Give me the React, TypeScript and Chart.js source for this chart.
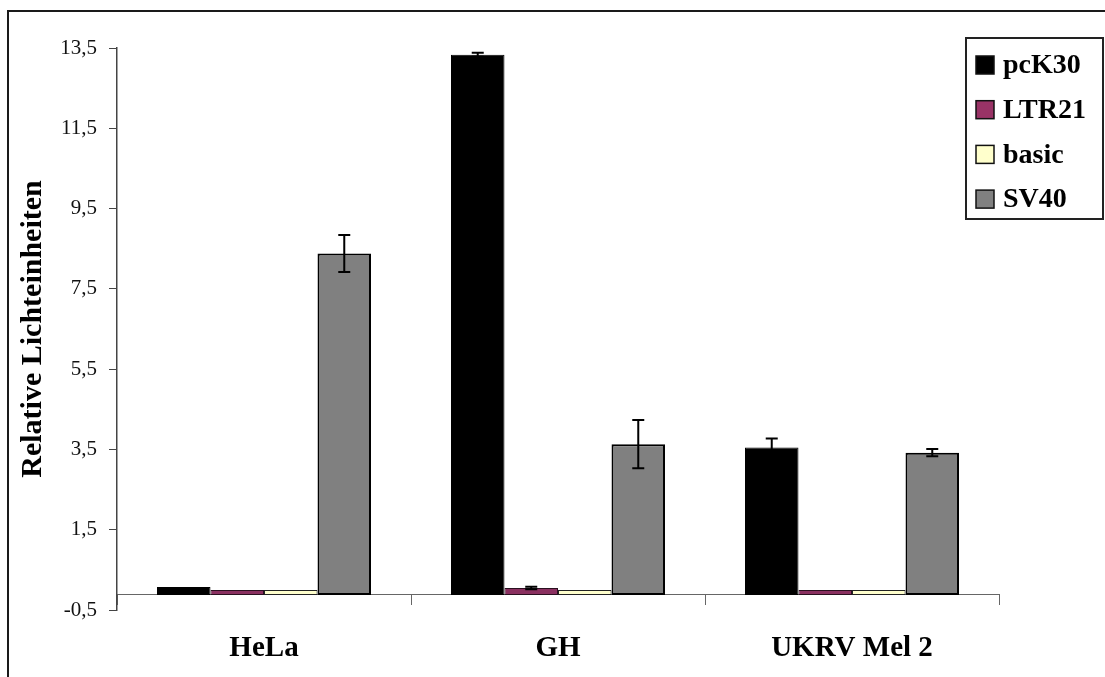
import { useEffect, useRef } from 'react';
import { Chart, registerables } from 'chart.js';

Chart.register(...registerables);

const categories = ['HeLa', 'GH', 'UKRV Mel 2'];
const seriesNames = ['pcK30', 'LTR21', 'basic', 'SV40'];
const pcK30 = [0.07, 13.33, 3.55];
const ltr21 = [0.0, 0.05, 0.0];
const basic = [0.0, 0.0, 0.0];
const sv40 = [8.38, 3.63, 3.42];
const pcK30Err = [0, 0.05, 0.22];
const ltr21Err = [0, 0.03, 0];
const basicErr = [0, 0, 0];
const sv40Err = [0.46, 0.6, 0.09];
const yTickValues = [-0.5, 1.5, 3.5, 5.5, 7.5, 9.5, 11.5, 13.5];
const axisCross = -0.125;

const SERIF = "'Liberation Serif', 'Times New Roman', serif";

const errorBarPlugin = {
  id: 'errorBars',
  afterDatasetsDraw(chart: any) {
    const ctx = chart.ctx;
    const yScale = chart.scales.y;
    chart.data.datasets.forEach((ds: any, i: number) => {
      const meta = chart.getDatasetMeta(i);
      const errs = ds.errors || [];
      meta.data.forEach((bar: any, j: number) => {
        const e = errs[j];
        if (!e) return;
        const v = ds.data[j];
        const x = bar.x;
        const yt = yScale.getPixelForValue(v + e);
        const yb = yScale.getPixelForValue(v - e);
        ctx.save();
        ctx.strokeStyle = '#000';
        ctx.lineWidth = 2;
        ctx.beginPath();
        ctx.moveTo(x, yt);
        ctx.lineTo(x, yb);
        ctx.moveTo(x - 6, yt);
        ctx.lineTo(x + 6, yt);
        ctx.moveTo(x - 6, yb);
        ctx.lineTo(x + 6, yb);
        ctx.stroke();
        ctx.restore();
      });
    });
  },
};

const boxLegendPlugin = {
  id: 'boxLegend',
  afterDraw(chart: any, _args: any, opts: any) {
    const ctx = chart.ctx;
    const { left, top, width, height, rowStart, rowGap, swatch, swatchX, textX, font } = opts;
    ctx.save();
    ctx.fillStyle = '#fff';
    ctx.fillRect(left, top, width, height);
    ctx.lineWidth = 2;
    ctx.strokeStyle = '#222';
    ctx.strokeRect(left, top, width, height);
    chart.data.datasets.forEach((ds: any, i: number) => {
      const cy = top + rowStart + i * rowGap;
      ctx.fillStyle = ds.legendColor || ds.backgroundColor;
      ctx.fillRect(left + swatchX, cy - swatch / 2, swatch, swatch);
      ctx.lineWidth = 1.5;
      ctx.strokeStyle = '#111';
      ctx.strokeRect(left + swatchX, cy - swatch / 2, swatch, swatch);
      ctx.fillStyle = '#000';
      ctx.font = font;
      ctx.textBaseline = 'middle';
      ctx.textAlign = 'left';
      ctx.fillText(ds.label, left + textX, cy + 1);
    });
    ctx.restore();
  },
};

export default function App() {
  const ref = useRef<HTMLCanvasElement>(null);

  useEffect(() => {
    const canvas = ref.current;
    if (!canvas) return;
    const common = { base: axisCross, borderSkipped: false as const };
    const chart = new Chart(canvas, {
      type: 'bar',
      data: {
        labels: categories,
        datasets: [
          { label: seriesNames[0], data: pcK30, errors: pcK30Err, backgroundColor: '#000000', borderColor: '#000000', borderWidth: 1, ...common } as any,
          { label: seriesNames[1], data: ltr21, errors: ltr21Err, backgroundColor: '#8a3060', legendColor: '#993366', borderColor: '#2a1020', borderWidth: 1, ...common } as any,
          { label: seriesNames[2], data: basic, errors: basicErr, backgroundColor: '#FFFFCC', borderColor: '#222', borderWidth: 1, ...common } as any,
          { label: seriesNames[3], data: sv40, errors: sv40Err, backgroundColor: '#808080', borderColor: '#000', borderWidth: 2, ...common } as any,
        ],
      },
      options: {
        responsive: false,
        animation: false,
        devicePixelRatio: 1,
        datasets: {
          bar: { barPercentage: 1, categoryPercentage: 0.728 },
        },
        layout: { padding: { left: 0, top: 48, right: 106, bottom: 67 } },
        plugins: {
          legend: { display: false },
          tooltip: { enabled: false },
          boxLegend: {
            left: 966,
            top: 38,
            width: 137,
            height: 181,
            rowStart: 27,
            rowGap: 44.7,
            swatch: 18,
            swatchX: 10,
            textX: 37,
            font: `bold 28px ${SERIF}`,
          },
        } as any,
        scales: {
          x: {
            type: 'category',
            position: { y: axisCross } as any,
            offset: true,
            grid: {
              display: true,
              drawOnChartArea: false,
              offset: true,
              tickLength: 10,
              color: '#666',
              lineWidth: 1,
            },
            border: { display: true, color: '#666', width: 1 },
            ticks: {
              padding: 26,
              color: '#000',
              maxRotation: 0,
              autoSkip: false,
              font: { family: SERIF, size: 29, weight: 'bold' },
            },
            afterFit: (s: any) => {
              s.height = 26;
            },
          },
          y: {
            type: 'linear',
            min: -0.5,
            max: 13.5,
            afterBuildTicks: (s: any) => {
              s.ticks = yTickValues.map((v) => ({ value: v }));
            },
            ticks: {
              padding: 12,
              color: '#111',
              font: { family: SERIF, size: 21 },
              callback: (v: any) => String(v).replace('.', ','),
            },
            grid: {
              display: true,
              drawOnChartArea: false,
              tickLength: 8,
              color: '#444',
              lineWidth: 1,
            },
            border: { display: true, color: '#444', width: 1.5 },
            title: {
              display: true,
              text: 'Relative Lichteinheiten',
              color: '#000',
              font: { family: SERIF, size: 30, weight: 'bold' },
              padding: { top: 15, bottom: 0 },
            },
            afterFit: (s: any) => {
              s.width = 117;
            },
          },
        },
      },
      plugins: [errorBarPlugin, boxLegendPlugin],
    });
    return () => chart.destroy();
  }, []);

  return (
    <div style={{ position: 'fixed', left: 0, top: 0, width: 1105, height: 677, overflow: 'hidden', background: '#fff' }}>
      <canvas ref={ref} width={1105} height={677} style={{ position: 'absolute', left: 0, top: 0, width: 1105, height: 677 }} />
      <div
        style={{
          position: 'absolute',
          left: 7,
          top: 10,
          width: 2000,
          height: 2000,
          borderLeft: '2px solid #1a1a1a',
          borderTop: '2px solid #1a1a1a',
          pointerEvents: 'none',
        }}
      />
    </div>
  );
}
